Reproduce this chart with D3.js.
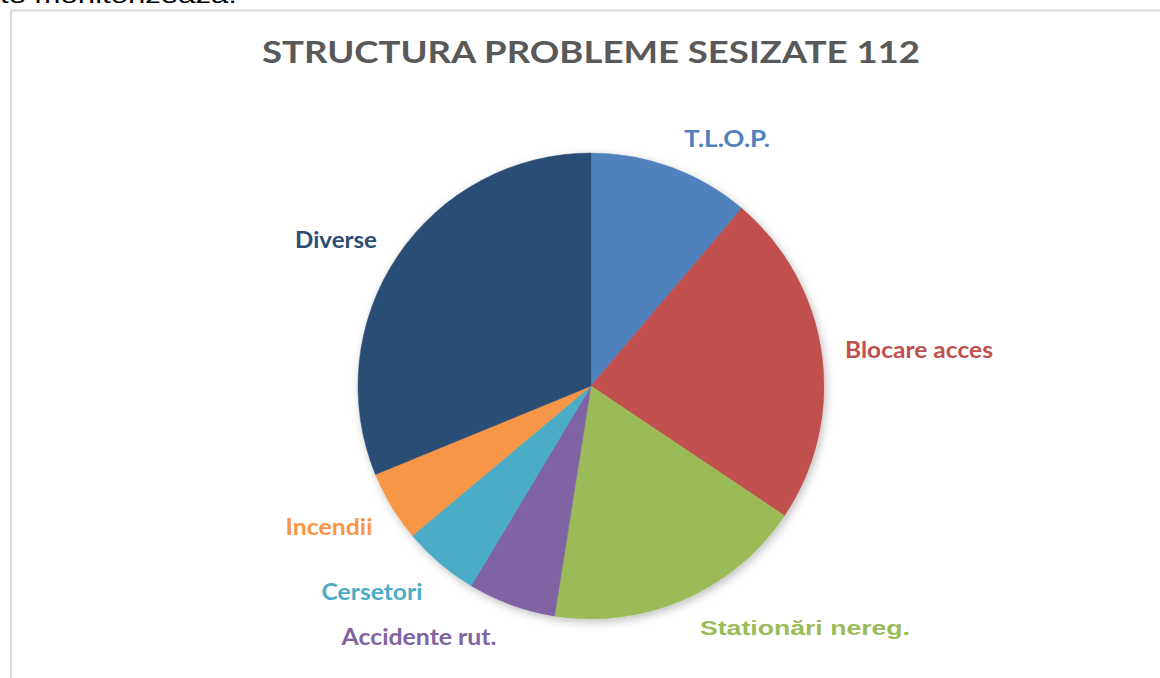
<!DOCTYPE html>
<html>
<head>
<meta charset="utf-8">
<script src="https://cdn.jsdelivr.net/npm/d3@7"></script>
<style>
  html, body { margin: 0; padding: 0; background: #fff; }
  svg { display: block; }
</style>
</head>
<body>
<svg id="chart" width="1160" height="678"></svg>
<script>
// Slices, clockwise from 12 o'clock (percent)
const categories = ['T.L.O.P.', 'Blocare acces', 'Stationări nereg.', 'Accidente rut.', 'Cersetori', 'Incendii', 'Diverse'];
const values = [11.2, 23.2, 18.1, 6.1, 5.3, 4.9, 31.2];
const colors = ['#4f81bd', '#c0504d', '#9bbb59', '#8064a2', '#4bacc6', '#f79646', '#2c4d75'];

const width = 1160, height = 678;
const cx = 591, cy = 386, radius = 233;

// label placement: centre x, baseline y, width to fit
const labelLayout = {
  'T.L.O.P.':          { x: 727, y: 147, w: 86 },
  'Blocare acces':     { x: 919, y: 358, w: 148 },
  'Stationări nereg.': { x: 805, y: 635, w: 210, arial: true },
  'Accidente rut.':    { x: 419, y: 645, w: 155 },
  'Cersetori':         { x: 372, y: 600, w: 101 },
  'Incendii':          { x: 329, y: 535, w: 87 },
  'Diverse':           { x: 336, y: 248, w: 82 }
};

const svg = d3.select('#chart');

// cut-off line of text above the chart
svg.append('text')
  .attr('x', 0)
  .attr('y', 3)
  .attr('font-family', 'Liberation Sans, Arial, sans-serif')
  .attr('font-size', 22)
  .attr('textLength', 237)
  .attr('lengthAdjust', 'spacingAndGlyphs')
  .attr('fill', '#000')
  .text('te monitorizează.');

// chart frame
svg.append('rect')
  .attr('x', 11)
  .attr('y', 10.5)
  .attr('width', 1200)
  .attr('height', 700)
  .attr('fill', '#fff')
  .attr('stroke', '#d9d9d9')
  .attr('stroke-width', 2);

// title
svg.append('text')
  .attr('x', cx)
  .attr('y', 63)
  .attr('text-anchor', 'middle')
  .attr('font-family', 'Lato, Open Sans, sans-serif')
  .attr('font-weight', 'bold')
  .attr('font-size', 31)
  .attr('textLength', 658)
  .attr('lengthAdjust', 'spacingAndGlyphs')
  .attr('fill', '#595959')
  .text('STRUCTURA PROBLEME SESIZATE 112');

// soft shadow
const defs = svg.append('defs');
const f = defs.append('filter')
  .attr('id', 'shadow')
  .attr('x', '-10%').attr('y', '-10%')
  .attr('width', '120%').attr('height', '120%');
f.append('feDropShadow')
  .attr('dx', 2).attr('dy', 3)
  .attr('stdDeviation', 4)
  .attr('flood-color', '#000')
  .attr('flood-opacity', 0.25);

const data = categories.map((c, i) => ({ name: c, value: values[i], color: colors[i] }));

const pie = d3.pie()
  .value(d => d.value)
  .sort(null);

const arc = d3.arc()
  .innerRadius(0)
  .outerRadius(radius);

const g = svg.append('g')
  .attr('transform', `translate(${cx},${cy})`);

g.append('g')
  .attr('filter', 'url(#shadow)')
  .selectAll('path')
  .data(pie(data))
  .join('path')
  .attr('d', arc)
  .attr('fill', d => d.data.color)
  .attr('stroke', d => d.data.color)
  .attr('stroke-width', 0.5);

// labels
svg.append('g')
  .selectAll('text')
  .data(data)
  .join('text')
  .attr('x', d => labelLayout[d.name].x)
  .attr('y', d => labelLayout[d.name].y)
  .attr('text-anchor', 'middle')
  .attr('font-family', d => labelLayout[d.name].arial ? 'Liberation Sans, Arial, sans-serif' : 'Lato, Open Sans, sans-serif')
  .attr('font-weight', 'bold')
  .attr('font-size', d => labelLayout[d.name].arial ? 21 : 22)
  .attr('textLength', d => labelLayout[d.name].w)
  .attr('lengthAdjust', 'spacingAndGlyphs')
  .attr('fill', d => d.color)
  .text(d => d.name);
</script>
</body>
</html>
